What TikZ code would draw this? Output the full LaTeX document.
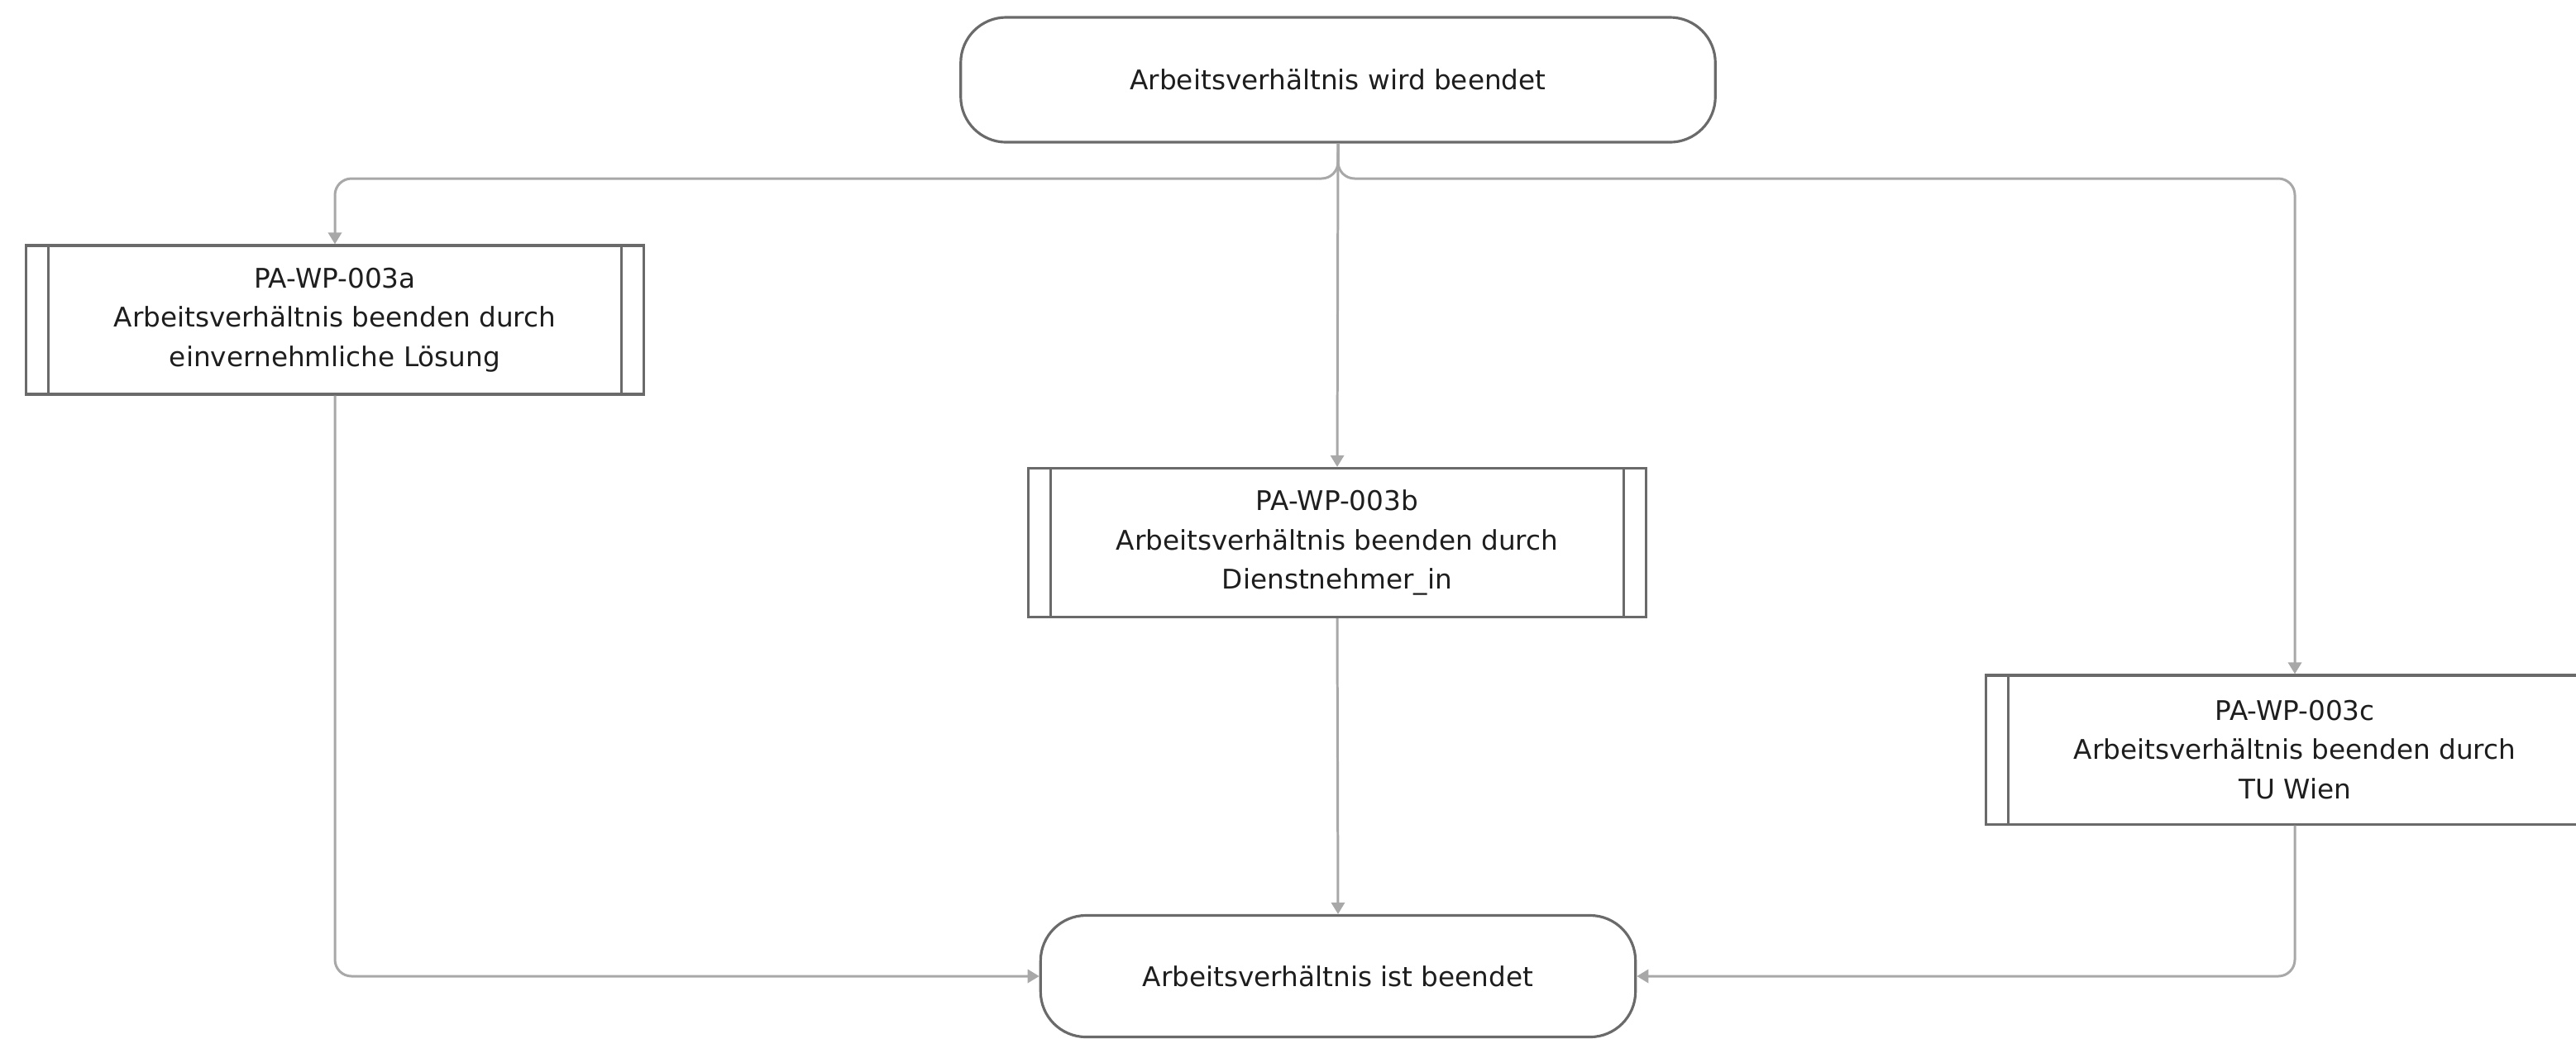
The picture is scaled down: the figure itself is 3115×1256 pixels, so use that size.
\documentclass[tikz,border=0pt]{standalone}
\usepackage{fontspec}
\setmainfont{DejaVu Sans}
\usetikzlibrary{arrows.meta}
\definecolor{linec}{HTML}{A8A8A8}
\definecolor{boxc}{HTML}{6A6A6A}
\definecolor{txtc}{HTML}{1E1E1E}
\begin{document}
\begin{tikzpicture}[x=0.01cm, y=-0.01cm,
  every node/.style={font=\fontsize{9.3}{13.5}\selectfont, text=txtc},
  terminal/.style={draw=boxc, line width=0.9pt, rounded corners=0.55cm, fill=white, align=center, inner sep=0pt},
  subproc/.style={draw=boxc, line width=0.9pt, fill=white, align=center,
    minimum width=7.46cm, minimum height=1.8cm, inner sep=0pt,
    path picture={\draw[boxc, line width=0.9pt]
      ([xshift=0.27cm]path picture bounding box.north west) -- ([xshift=0.27cm]path picture bounding box.south west)
      ([xshift=-0.27cm]path picture bounding box.north east) -- ([xshift=-0.27cm]path picture bounding box.south east);}},
  conn/.style={draw=linec, line width=0.85pt, rounded corners=0.2cm, -{Triangle[length=4pt,width=4.6pt]}}
]
\useasboundingbox (0,0) rectangle (3115,1256);
\clip (0,0) rectangle (3115,1256);
\fill[white] (0,0) rectangle (3115,1256);

\node[terminal, minimum width=9.12cm, minimum height=1.51cm] (start) at (1618,96.5) {Arbeitsverhältnis wird beendet};
\node[subproc] (a) at (405,387) {PA-WP-003a\\Arbeitsverhältnis beenden durch\\einvernehmliche Lösung};
\node[subproc] (b) at (1617,656.5) {PA-WP-003b\\Arbeitsverhältnis beenden durch\\Dienstnehmer\_in};
\node[subproc] (c) at (2775,907) {PA-WP-003c\\Arbeitsverhältnis beenden durch\\TU Wien};
\node[terminal, minimum width=7.19cm, minimum height=1.47cm] (end) at (1618,1181) {Arbeitsverhältnis ist beendet};

\coordinate (split) at (1618,216);
\draw[conn] (start.south) -- (split) -| (a.north);
\draw[conn] (start.south) -- (split) -| (c.north);
\draw[conn] (start.south) -- (b.north);
\draw[conn] (b.south) -- (end.north);
\draw[conn] (a.south) |- (end.west);
\draw[conn] (c.south) |- (end.east);
\end{tikzpicture}
\end{document}
